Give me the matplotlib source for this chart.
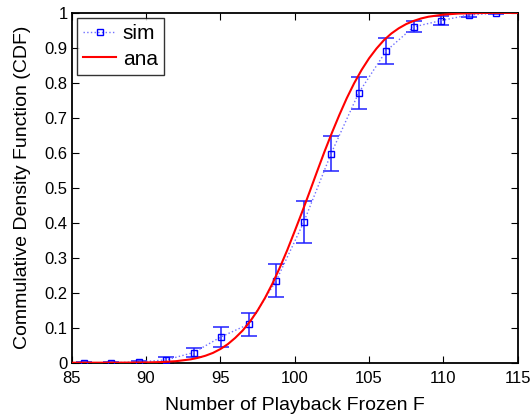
import matplotlib
matplotlib.use("Agg")
import matplotlib.pyplot as plt

plt.rcParams['font.family'] = ['Liberation Sans', 'DejaVu Sans']

# simulated CDF with error bars
sim_x = [85.8, 87.65, 89.5, 91.35, 93.2, 95.05, 96.9, 98.75,
         100.6, 102.45, 104.3, 106.15, 108.0, 109.85, 111.7, 113.55]
sim_y = [0.0, 0.0, 0.002, 0.008, 0.029, 0.074, 0.110, 0.234,
         0.401, 0.598, 0.771, 0.891, 0.960, 0.978, 0.994, 0.999]
sim_err = [0.002, 0.002, 0.004, 0.008, 0.013, 0.028, 0.033, 0.047,
           0.060, 0.050, 0.047, 0.037, 0.016, 0.012, 0.007, 0.003]

# analytical CDF
ana_x = [85, 88, 90, 91, 92, 93, 93.5, 94, 94.5, 95, 95.5, 96, 96.5, 97, 97.5,
         98, 98.5, 99, 99.5, 100, 100.5, 101, 101.5, 102, 102.5, 103, 103.5,
         104, 104.5, 105, 105.5, 106, 106.5, 107, 107.5, 108, 108.5, 109,
         110, 111, 112, 113, 115]
ana_y = [0.0, 0.0001, 0.0007, 0.0018, 0.0043, 0.0096, 0.014, 0.020, 0.028,
         0.039, 0.053, 0.071, 0.092, 0.118, 0.149, 0.185, 0.226, 0.272, 0.322,
         0.376, 0.431, 0.488, 0.546, 0.603, 0.657, 0.708, 0.756, 0.799, 0.837,
         0.870, 0.898, 0.922, 0.941, 0.956, 0.968, 0.977, 0.984, 0.989,
         0.995, 0.998, 0.999, 1.0, 1.0]

fig = plt.figure(figsize=(5.31, 4.15), dpi=100)
ax = fig.add_axes([0.135, 0.126, 0.84, 0.843])

ax.errorbar(sim_x, sim_y, yerr=sim_err, fmt='none', ecolor='#2020ff',
            elinewidth=1.1, capsize=6, capthick=1.1, zorder=2)
ax.plot(sim_x, sim_y, color='#7070ff', linestyle=':', linewidth=1,
        marker='s', markersize=5, markerfacecolor='none',
        markeredgecolor='#0000ff', markeredgewidth=1, label='sim', zorder=3)
ax.plot(ana_x, ana_y, color='#ff0000', linewidth=1.5, label='ana', zorder=4)

ax.set_xlim(85, 115)
ax.set_ylim(0, 1)
ax.set_xticks([85, 90, 95, 100, 105, 110, 115])
ax.set_yticks([0, 0.1, 0.2, 0.3, 0.4, 0.5, 0.6, 0.7, 0.8, 0.9, 1])
ax.set_yticklabels(['0', '0.1', '0.2', '0.3', '0.4', '0.5', '0.6', '0.7', '0.8', '0.9', '1'])
ax.tick_params(direction='in', top=True, right=True, length=5, labelsize=12)
ax.tick_params(axis='x', pad=6)
ax.tick_params(axis='y', pad=3)
for s in ax.spines.values():
    s.set_linewidth(1.3)

ax.set_xlabel('Number of Playback Frozen F', fontsize=14, labelpad=8)
ax.set_ylabel('Commulative Density Function (CDF)', fontsize=14, labelpad=10)

leg = ax.legend(loc='upper left', fontsize=15, frameon=True, fancybox=False,
                borderpad=0.3, handlelength=1.6, handletextpad=0.3,
                labelspacing=0.3, borderaxespad=0.25)
leg.get_frame().set_edgecolor('black')
leg.get_frame().set_linewidth(1)

fig.savefig('out.png', dpi=100)
